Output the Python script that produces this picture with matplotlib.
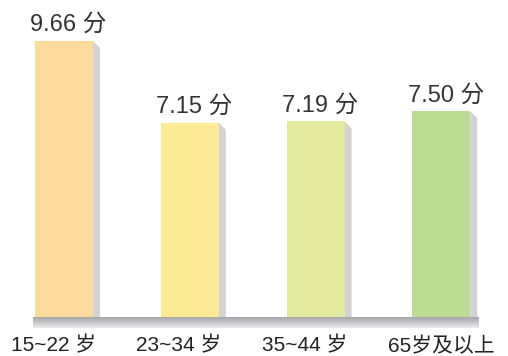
import matplotlib as mpl
mpl.use('Agg')
from matplotlib import pyplot as plt
import matplotlib.patches as patches
import numpy as np

plt.rcParams['font.family'] = ['Liberation Sans', 'Noto Sans CJK SC']

# data
categories = ['15~22 岁', '23~34 岁', '35~44 岁', '65岁及以上']
values = [9.66, 7.15, 7.19, 7.50]
value_labels = ['9.66 分', '7.15 分', '7.19 分', '7.50 分']
colors = ['#FDD99B', '#FDEA95', '#E3EA9E', '#BADB92']

W, H = 508, 356
fig = plt.figure(figsize=(W / 100, H / 100), dpi=100)

# axes placed in pixel terms: base line at y=317px, left 33px, right 479px
ax_left, ax_right = 33, 479
ax_bottom, ax_top = H - 317, H - 20
ax = fig.add_axes([ax_left / W, ax_bottom / H, (ax_right - ax_left) / W, (ax_top - ax_bottom) / H])

ymin = 1.18
px_per_val = 32.56
ymax = ymin + (ax_top - ax_bottom) / px_per_val
xmin, xmax = -0.247, 3.30
px_per_x = (ax_right - ax_left) / (xmax - xmin)

ax.set_xlim(xmin, xmax)
ax.set_ylim(ymin, ymax)
ax.axis('off')

width = 58 / px_per_x
sh_w = 7 / px_per_x
sh_h = 7 / px_per_val

x = np.arange(len(values))
ax.bar(x, values, width=width, bottom=0, color=colors, zorder=2)

# grey side shadow with a slanted top
for xi, v in zip(x, values):
    r = xi + width / 2
    poly = patches.Polygon([(r, ymin), (r, v), (r + sh_w, v - sh_h), (r + sh_w, ymin)],
                           closed=True, facecolor='#D2D2D4', edgecolor='none', zorder=1)
    ax.add_patch(poly)

for xi, v, lab in zip(x, values, value_labels):
    ax.annotate(lab, (xi + 0.035, v), xytext=(0, 7), textcoords='offset points',
                ha='center', va='baseline', fontsize=17, color='#333333')

# category labels below the base strip, left aligned a bit left of each bar
for xi, lab in zip(x, categories):
    ax.annotate(lab, (xi - width / 2, ymin), xytext=(-17.5, -25), textcoords='offset points',
                ha='left', va='baseline', fontsize=15, color='#222222', annotation_clip=False)

# base strip with vertical gradient
bax = fig.add_axes([ax_left / W, (H - 328) / H, (ax_right - ax_left) / W, 11 / H])
grad = np.linspace(0, 1, 50).reshape(-1, 1)
cmap = mpl.colors.LinearSegmentedColormap.from_list('base', ['#A4A4AA', '#ECECEC'])
bax.imshow(grad, aspect='auto', cmap=cmap, extent=(0, 1, 0, 1), origin='upper')
bax.axis('off')

plt.savefig('out.png', dpi=100)
plt.close()
